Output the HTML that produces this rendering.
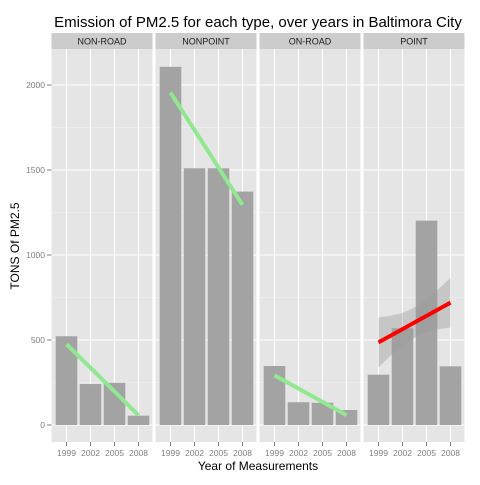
<!DOCTYPE html>
<html><head><meta charset="utf-8"><style>
body{margin:0;background:#fff}
svg text{font-family:"Liberation Sans",Arial,sans-serif}
</style></head><body>
<svg id="chart" width="480" height="480"></svg>
<script>
const types = ["NON-ROAD","NONPOINT","ON-ROAD","POINT"];
const years = [1999,2002,2005,2008];
const nonRoad = [522,241,248,55];
const nonPoint = [2107,1510,1510,1373];
const onRoad = [347,134,131,88];
const point = [296,569,1202,345];
const yTicks = [0,500,1000,1500,2000];
const fitColors = ["#90e890","#90e890","#90e890","#ff0000"];
const bandScale = [0,0,0,176];

const series=[nonRoad,nonPoint,onRoad,point];
const NS="http://www.w3.org/2000/svg";
const svg=document.getElementById('chart');
function mk(tag,attrs,parent){const e=document.createElementNS(NS,tag);for(const k in attrs)e.setAttribute(k,attrs[k]);(parent||svg).appendChild(e);return e;}
const plotTop=49,plotBottom=442,zeroY=425,pxPer=340/2000;
const yS=v=>zeroY-v*pxPer;
const panelW=101,starts=[51.5,155.5,259.5,363.5];
const xS=(p,i)=>starts[p]+15+i*24;

let t=mk('text',{x:258,y:27,'font-size':15,'text-anchor':'middle',fill:'#000'});


t.textContent='Emission of PM2.5 for each type, over years in Baltimora City';

types.forEach((ty,p)=>{
  const x0=starts[p];
  const g=mk('g',{});
  
  
  mk('rect',{x:x0,y:plotTop,width:panelW,height:plotBottom-plotTop,fill:'#e5e5e5'},g);
  mk('rect',{x:x0,y:33,width:panelW,height:16,fill:'#cccccc'},g);
  const st=mk('text',{x:x0+panelW/2,y:44.5,'font-size':9,'text-anchor':'middle',fill:'#1a1a1a'},g);
  
  
  st.textContent=ty;
  for(let k=0;k<yTicks.length;k++){
    mk('line',{x1:x0,x2:x0+panelW,y1:yS(yTicks[k]),y2:yS(yTicks[k]),stroke:'#fff','stroke-width':1.1},g);
    if(k<yTicks.length-1){const m=(yTicks[k]+yTicks[k+1])/2;mk('line',{x1:x0,x2:x0+panelW,y1:yS(m),y2:yS(m),stroke:'#f2f2f2','stroke-width':0.5},g);}
  }
  years.forEach((yr,i)=>{
    const cx=xS(p,i);
    mk('line',{x1:cx,x2:cx,y1:plotTop,y2:plotBottom,stroke:'#fff','stroke-width':1.1},g);
    mk('line',{x1:cx,x2:cx,y1:plotBottom,y2:plotBottom+4,stroke:'#7f7f7f','stroke-width':1},g);
    const lb=mk('text',{x:cx,y:456,'font-size':8.5,'text-anchor':'middle',fill:'#7f7f7f'},g);
    
    
    lb.textContent=yr;
  });
  const vals=series[p];
  vals.forEach((v,i)=>{
    const b=mk('rect',{x:xS(p,i)-10.8,y:yS(v),width:21.6,height:zeroY-yS(v),fill:'#a3a3a3'},g);
    
    
  });
  const n=vals.length,mx=years.reduce((a,b)=>a+b)/n,my=vals.reduce((a,b)=>a+b)/n;
  let sxy=0,sxx=0;years.forEach((x,i)=>{sxy+=(x-mx)*(vals[i]-my);sxx+=(x-mx)*(x-mx);});
  const sl=sxy/sxx,f=x=>my+sl*(x-mx);
  if(bandScale[p]>0){
    const up=[],lo=[];
    for(let k=0;k<=20;k++){const x=years[0]+k*(years[n-1]-years[0])/20;const h=bandScale[p]*Math.sqrt(1/n+(x-mx)*(x-mx)/sxx);
      const px=xS(p,0)+(x-years[0])/3*24;up.push(px+','+yS(f(x)+h));lo.unshift(px+','+yS(f(x)-h));}
    const band=mk('polygon',{points:up.concat(lo).join(' '),fill:'#999','fill-opacity':0.4},g);
    
    
  }
  const ln=mk('line',{x1:xS(p,0),y1:yS(f(years[0])),x2:xS(p,n-1),y2:yS(f(years[n-1])),stroke:fitColors[p],'stroke-width':4},g);
  
  
});
yTicks.forEach(v=>{
  mk('line',{x1:47,x2:51.5,y1:yS(v),y2:yS(v),stroke:'#7f7f7f','stroke-width':1});
  const l=mk('text',{x:45,y:yS(v)+3,'font-size':8.5,'text-anchor':'end',fill:'#7f7f7f'});
  
  
  l.textContent=v;
});
const xt=mk('text',{x:258,y:470,'font-size':12,'text-anchor':'middle',fill:'#000'});


xt.textContent='Year of Measurements';
const yt=mk('text',{x:0,y:0,'font-size':12,'text-anchor':'middle',fill:'#000',transform:'translate(19,246) rotate(-90)'});


yt.textContent='TONS Of PM2.5';
</script>
</body></html>
